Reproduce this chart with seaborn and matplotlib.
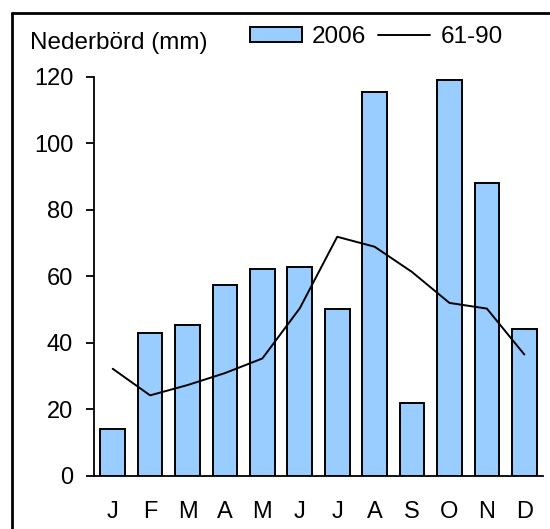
import numpy as np
import pandas as pd
import matplotlib
matplotlib.use("Agg")
import matplotlib.pyplot as plt
import seaborn as sns
from matplotlib.patches import Patch
from matplotlib.lines import Line2D

# Monthly precipitation (mm)
month_num = [1, 2, 3, 4, 5, 6, 7, 8, 9, 10, 11, 12]
month_labels = ["J", "F", "M", "A", "M", "J", "J", "A", "S", "O", "N", "D"]
precip_2006 = [14.0, 43.0, 45.4, 57.4, 62.2, 62.8, 50.2, 115.2, 21.8, 118.8, 88.0, 44.2]
normal_6190 = [32.1, 24.1, 27.2, 30.8, 35.2, 50.3, 71.8, 68.8, 61.2, 51.9, 50.2, 36.4]
y_ticks = [0, 20, 40, 60, 80, 100, 120]

sns.set_theme(style="white")
plt.rcParams["font.family"] = ["Liberation Sans", "DejaVu Sans"]

df = pd.DataFrame({"month": month_num, "2006": precip_2006, "61-90": normal_6190})

fig = plt.figure(figsize=(5.5, 5.29), dpi=100)
ax = fig.add_axes([94 / 550, 1 - 475.5 / 529, (543 - 94) / 550, (475.5 - 76.5) / 529])

bar_color = "#99CCFF"
sns.barplot(data=df, x="month", y="2006", order=month_num, color=bar_color,
            width=0.66, edgecolor="black", linewidth=1.4, saturation=1, ax=ax)
sns.pointplot(data=df, x="month", y="61-90", order=month_num, color="black",
              markers="", linestyles="-", linewidth=1.4, ax=ax)

ax.set_xlim(-0.5, 11.5)
ax.set_ylim(0, 120)
ax.set_yticks(y_ticks)
ax.set_xticks(range(len(month_labels)))
ax.set_xticklabels(month_labels)
ax.set_xlabel("")
ax.set_ylabel("")

sns.despine(ax=ax, top=True, right=True)
for side in ("left", "bottom"):
    ax.spines[side].set_color("black")
    ax.spines[side].set_linewidth(1.3)
ax.tick_params(axis="y", direction="out", length=6, width=1.3, color="black",
               labelsize=17, labelcolor="black", pad=9, left=True)
ax.tick_params(axis="x", length=0, labelsize=17, labelcolor="black", pad=18)

# Axis title above the value axis
fig.text(30 / 550, 1 - 48.5 / 529, "Nederbörd (mm)", fontsize=17.5,
         ha="left", va="baseline", color="black")

handles = [
    Patch(facecolor=bar_color, edgecolor="black", linewidth=1.4, label="2006"),
    Line2D([0], [0], color="black", linewidth=1.4, label="61-90"),
]
fig.legend(handles=handles, loc="center left", bbox_to_anchor=(250 / 550, 1 - 37 / 529),
           ncol=2, frameon=False, fontsize=17.5, borderpad=0, borderaxespad=0,
           handlelength=2.14, handleheight=0.62, handletextpad=0.41, columnspacing=0.5,
           labelcolor="black")

# Outer frame (top and left edges)
fig.add_artist(Line2D([12 / 550, 1.0], [1 - 12.5 / 529, 1 - 12.5 / 529],
                      transform=fig.transFigure, color="black", linewidth=2.0))
fig.add_artist(Line2D([12 / 550, 12 / 550], [0.0, 1 - 12.5 / 529],
                      transform=fig.transFigure, color="black", linewidth=2.0))

fig.savefig("out.png", dpi=100, facecolor="white")
